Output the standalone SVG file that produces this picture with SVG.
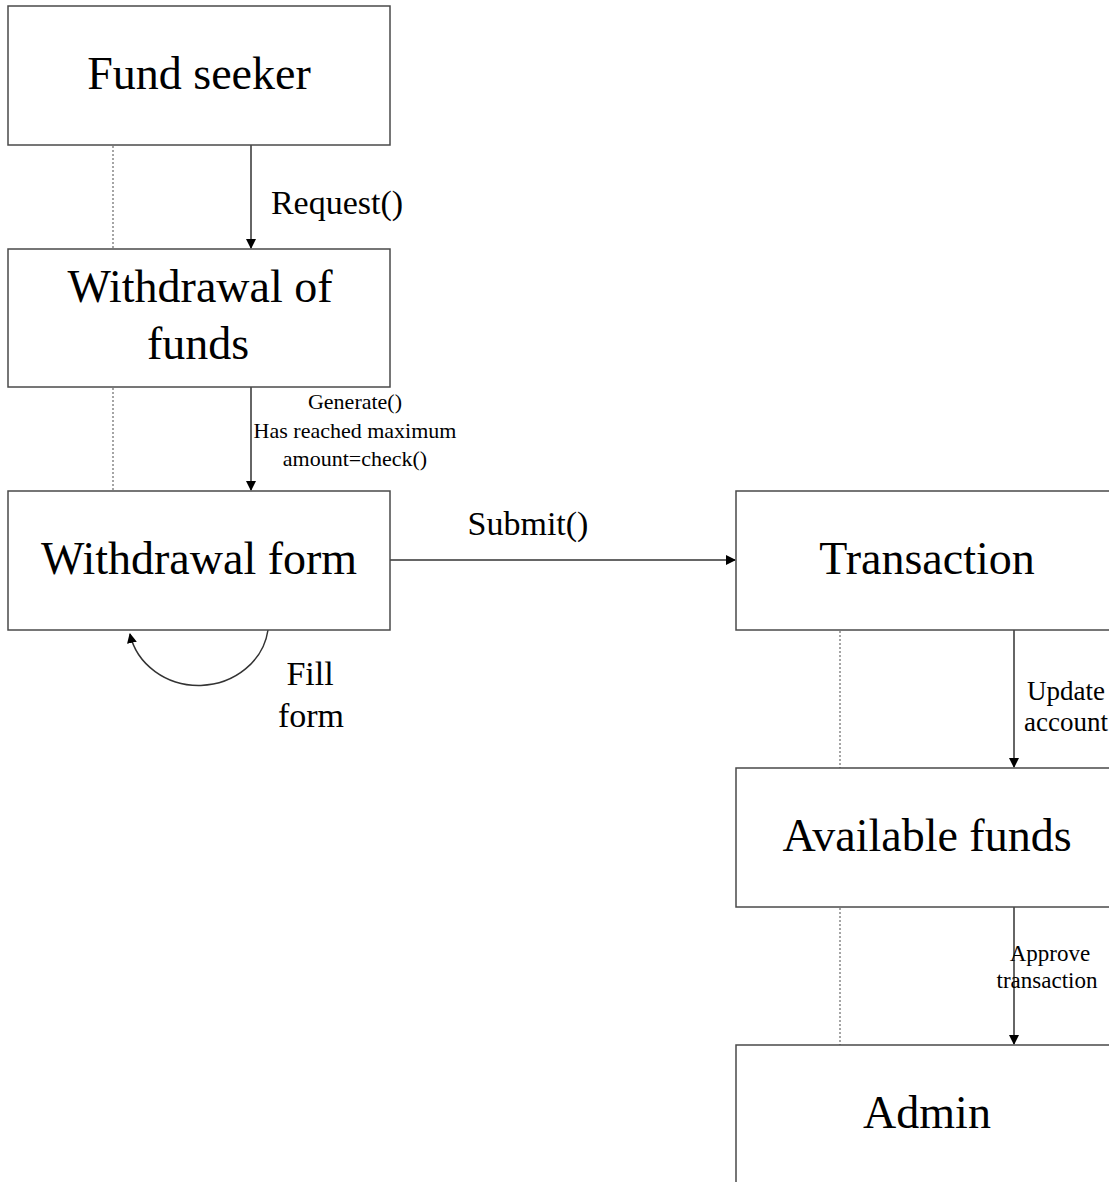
<svg xmlns="http://www.w3.org/2000/svg" width="1109" height="1182" viewBox="0 0 1109 1182">
<style>
.box{fill:#fff;stroke:#4a4a4a;stroke-width:1.5}
.t{font-family:"Liberation Serif","Times New Roman",serif;fill:#000;text-anchor:middle}
.big{font-size:46px}
.mid{font-size:34px}
.sm{font-size:22px}
.ln{stroke:#333;stroke-width:1.5;fill:none}
.dot{stroke:#888;stroke-width:1.5;stroke-dasharray:2 2;fill:none}
</style>
<defs>
<marker id="ah" markerWidth="10" markerHeight="10" refX="9" refY="5" orient="auto" markerUnits="userSpaceOnUse">
<path d="M0,0 L10,5 L0,10 z" fill="#000"/>
</marker>
</defs>
<rect width="1109" height="1182" fill="#fff"/>
<g id="connectors">
<line class="dot" x1="113" y1="146" x2="113" y2="249"/>
<line class="dot" x1="113" y1="388" x2="113" y2="491"/>
<line class="dot" x1="840" y1="631" x2="840" y2="768"/>
<line class="dot" x1="840" y1="908" x2="840" y2="1045"/>
<line class="ln" x1="251" y1="145" x2="251" y2="248" marker-end="url(#ah)"/>
<line class="ln" x1="251" y1="387" x2="251" y2="490" marker-end="url(#ah)"/>
<line class="ln" x1="390" y1="560" x2="735" y2="560" marker-end="url(#ah)"/>
<line class="ln" x1="1014" y1="630" x2="1014" y2="767" marker-end="url(#ah)"/>
<line class="ln" x1="1014" y1="907" x2="1014" y2="1044" marker-end="url(#ah)"/>
<path class="ln" d="M268,630 A70,64 0 0 1 130,634" marker-end="url(#ah)"/>
<text class="t mid" x="337" y="214">Request()</text>
<text class="t sm" x="355" y="409">Generate()</text>
<text class="t sm" x="355" y="438">Has reached maximum</text>
<text class="t sm" x="355" y="466">amount=check()</text>
<text class="t mid" x="528" y="535">Submit()</text>
<text class="t mid" x="310" y="685">Fill</text>
<text class="t mid" x="311" y="727">form</text>
<text class="t" style="font-size:27px;text-anchor:start" x="1027" y="700">Update</text>
<text class="t" style="font-size:27px;text-anchor:start" x="1024" y="731">account</text>
<text class="t" style="font-size:23px" x="1050" y="961">Approve</text>
<text class="t" style="font-size:23px" x="1047" y="988">transaction</text>
</g>
<g id="fund-seeker">
<rect class="box" x="8" y="6" width="382" height="139"/>
<text class="t big" x="199" y="89">Fund seeker</text>
</g>
<g id="withdrawal-of-funds">
<rect class="box" x="8" y="249" width="382" height="138"/>
<text class="t big" x="200" y="302">Withdrawal of</text>
<text class="t big" x="198" y="359">funds</text>
</g>
<g id="withdrawal-form">
<rect class="box" x="8" y="491" width="382" height="139"/>
<text class="t big" x="199" y="574">Withdrawal form</text>
</g>
<g id="transaction">
<rect class="box" x="736" y="491" width="400" height="139"/>
<text class="t big" x="927" y="574">Transaction</text>
</g>
<g id="available-funds">
<rect class="box" x="736" y="768" width="400" height="139"/>
<text class="t big" x="927" y="851">Available funds</text>
</g>
<g id="admin">
<rect class="box" x="736" y="1045" width="400" height="160"/>
<text class="t big" x="927" y="1128">Admin</text>
</g>
</svg>
